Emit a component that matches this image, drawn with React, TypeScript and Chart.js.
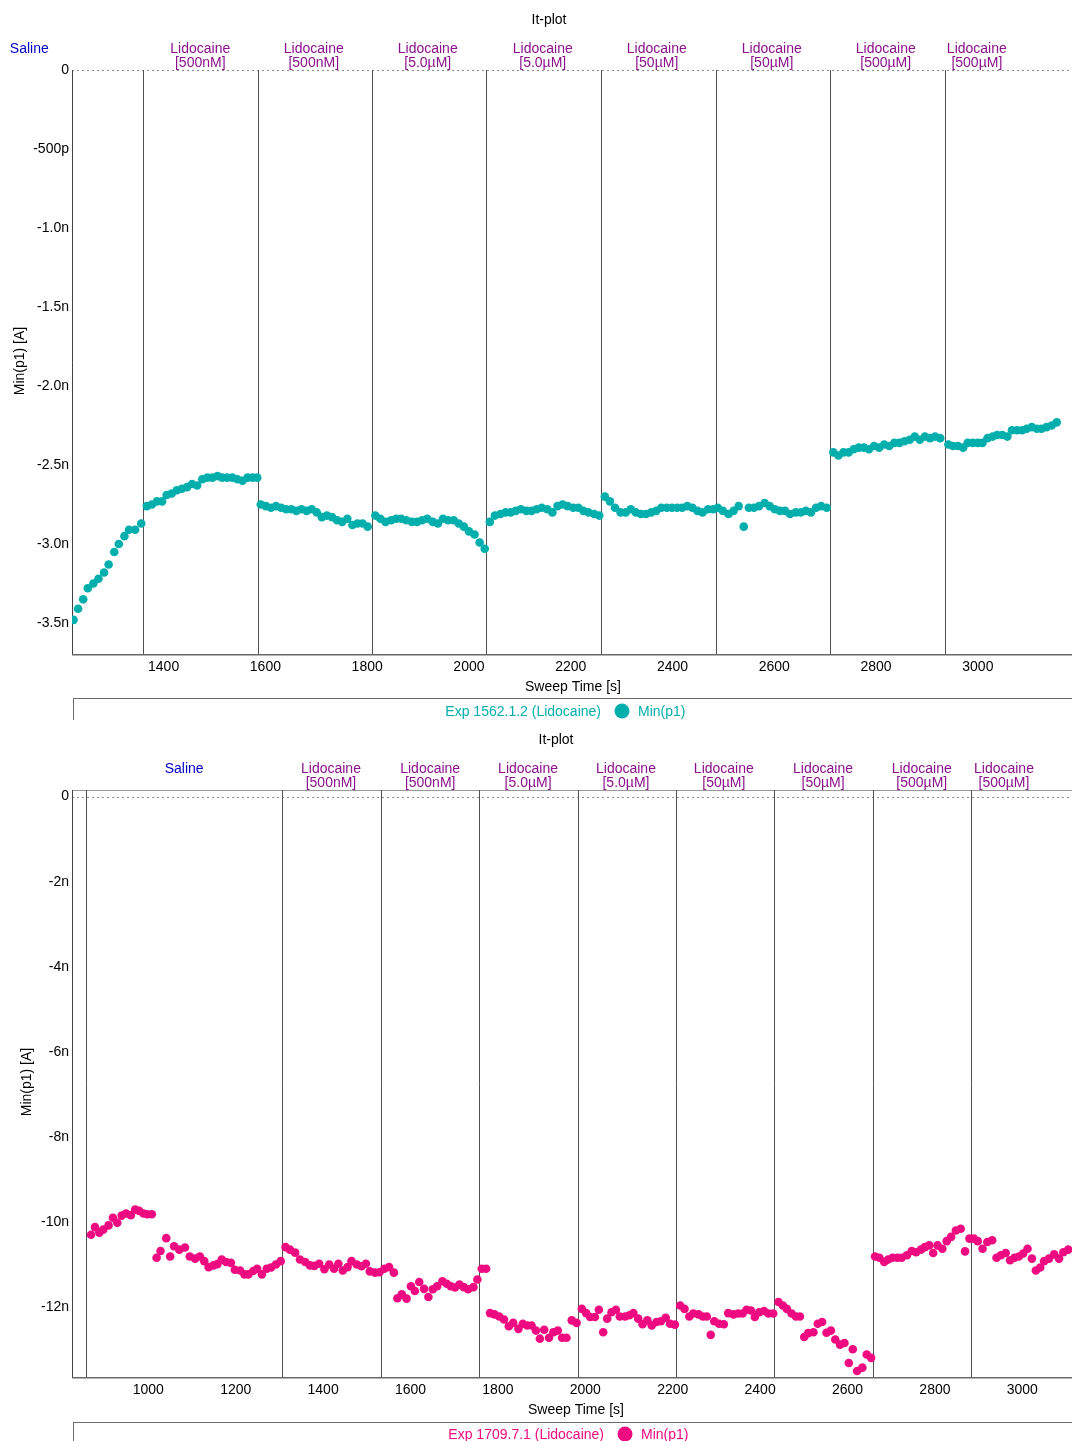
import React, { useEffect, useRef } from "react";
import { Chart, registerables } from "chart.js";

Chart.register(...registerables);

const FONT_FAMILY = '"Liberation Sans", Arial, Helvetica, sans-serif';
const FONT_SIZE = 14;

// ---------------- Panel 1: Exp 1562.1.2 (Lidocaine) ----------------
const topTimes = [
  1223, 1232, 1242, 1251, 1262, 1272, 1283, 1292, 1303, 1312, 1323, 1332, 1344, 1356,
  1367, 1377, 1387, 1397, 1406, 1416, 1426, 1436, 1446, 1456, 1466, 1476, 1486, 1496, 1506, 1515, 1525, 1535, 1545, 1555, 1565, 1575, 1584,
  1591, 1601, 1611, 1621, 1631, 1641, 1651, 1661, 1671, 1681, 1691, 1701, 1711, 1721, 1731, 1741, 1751, 1761, 1771, 1781, 1791, 1801,
  1816, 1826, 1836, 1847, 1857, 1867, 1877, 1888, 1898, 1908, 1918, 1929, 1939, 1949, 1959, 1970, 1980, 1990, 2000, 2011, 2021, 2031,
  2041, 2051, 2062, 2072, 2082, 2092, 2102, 2113, 2123, 2133, 2143, 2154, 2164, 2174, 2184, 2194, 2205, 2215, 2225, 2235, 2246, 2256,
  2267, 2277, 2287, 2298, 2308, 2318, 2328, 2338, 2348, 2358, 2368, 2378, 2389, 2399, 2409, 2419, 2429, 2439, 2449, 2459, 2470, 2480,
  2489, 2499, 2510, 2520, 2530, 2540, 2550, 2560, 2570, 2581, 2591, 2601, 2611, 2621, 2631, 2642, 2652, 2662, 2672, 2682, 2692, 2703,
  2716, 2726, 2736, 2746, 2756, 2766, 2776, 2786, 2796, 2806, 2816, 2826, 2836, 2846, 2856, 2866, 2876, 2886, 2896, 2906, 2916, 2926,
  2942, 2951, 2961, 2971, 2980, 2990, 3000, 3009, 3019, 3029, 3038, 3048, 3058, 3067, 3077, 3087, 3096, 3106, 3116, 3125, 3135, 3145, 3155,
];
// values in nA
const topValues = [
  -3.48, -3.41, -3.35, -3.28, -3.25, -3.22, -3.18, -3.13, -3.05, -3.0, -2.95, -2.91, -2.91, -2.87,
  -2.76, -2.75, -2.73, -2.73, -2.69, -2.68, -2.66, -2.65, -2.64, -2.62, -2.63, -2.59, -2.58, -2.58, -2.57, -2.58, -2.58, -2.58, -2.59, -2.6, -2.58, -2.58, -2.58,
  -2.75, -2.76, -2.77, -2.76, -2.77, -2.78, -2.78, -2.79, -2.78, -2.79, -2.78, -2.8, -2.83, -2.82, -2.83, -2.85, -2.86, -2.84, -2.88, -2.87, -2.87, -2.89,
  -2.82, -2.84, -2.86, -2.85, -2.84, -2.84, -2.85, -2.86, -2.86, -2.85, -2.84, -2.86, -2.87, -2.84, -2.85, -2.85, -2.87, -2.89, -2.92, -2.94, -2.99, -3.03,
  -2.86, -2.82, -2.81, -2.8, -2.8, -2.79, -2.78, -2.79, -2.79, -2.78, -2.77, -2.78, -2.8, -2.76, -2.75, -2.76, -2.77, -2.77, -2.79, -2.8, -2.81, -2.82,
  -2.7, -2.73, -2.77, -2.8, -2.8, -2.78, -2.8, -2.81, -2.81, -2.8, -2.79, -2.77, -2.77, -2.77, -2.77, -2.77, -2.76, -2.77, -2.79, -2.8, -2.78, -2.78,
  -2.77, -2.79, -2.81, -2.79, -2.76, -2.89, -2.77, -2.77, -2.76, -2.74, -2.76, -2.78, -2.79, -2.79, -2.81, -2.8, -2.8, -2.79, -2.8, -2.77, -2.76, -2.77,
  -2.42, -2.44, -2.42, -2.42, -2.4, -2.39, -2.39, -2.4, -2.38, -2.39, -2.37, -2.38, -2.36, -2.36, -2.35, -2.34, -2.32, -2.34, -2.32, -2.33, -2.32, -2.33,
  -2.37, -2.38, -2.38, -2.39, -2.36, -2.36, -2.36, -2.36, -2.33, -2.32, -2.31, -2.31, -2.32, -2.28, -2.28, -2.28, -2.27, -2.26, -2.27, -2.27, -2.26, -2.25, -2.23,
];
const topBoundaries = [1359, 1585, 1810, 2034, 2260, 2485, 2709, 2935];
const topLabelTimes = [1136, 1472, 1695, 1919, 2145, 2369, 2595, 2819, 2998];
const topXTicks = [1400, 1600, 1800, 2000, 2200, 2400, 2600, 2800, 3000];
const topYTicks = [0, -0.5, -1.0, -1.5, -2.0, -2.5, -3.0, -3.5];
const topYTickLabels = ["0", "-500p", "-1.0n", "-1.5n", "-2.0n", "-2.5n", "-3.0n", "-3.5n"];

// ---------------- Panel 2: Exp 1709.7.1 (Lidocaine) ----------------
const bottomTimes = [
  869, 878, 888, 897, 909, 919, 929, 939, 949, 960, 970, 979, 989, 998, 1008,
  1019, 1028, 1041, 1050, 1059, 1071, 1084, 1095, 1107, 1118, 1128, 1138, 1149, 1158, 1168, 1178, 1189, 1198, 1210, 1220, 1229, 1240, 1249, 1260, 1271, 1281, 1292, 1303,
  1314, 1324, 1336, 1347, 1359, 1370, 1380, 1391, 1403, 1414, 1425, 1435, 1445, 1456, 1465, 1477, 1488, 1498, 1507, 1519, 1529,
  1540, 1551, 1562, 1570, 1580, 1591, 1601, 1610, 1620, 1631, 1641, 1651, 1661, 1673, 1683, 1692, 1702, 1712, 1722, 1732, 1744, 1753,
  1763, 1773, 1782, 1792, 1803, 1814, 1825, 1835, 1847, 1857, 1867, 1877, 1887, 1896, 1906, 1917, 1927, 1937, 1947, 1957, 1969, 1980,
  1992, 2002, 2011, 2022, 2031, 2041, 2050, 2060, 2070, 2079, 2091, 2101, 2110, 2121, 2131, 2142, 2152, 2163, 2173, 2184, 2194, 2205,
  2217, 2227, 2238, 2247, 2259, 2269, 2278, 2287, 2295, 2306, 2317, 2327, 2339, 2350, 2360, 2369, 2379, 2388, 2398, 2409, 2419, 2430,
  2442, 2452, 2461, 2472, 2482, 2491, 2501, 2510, 2522, 2532, 2542, 2552, 2562, 2572, 2583, 2593, 2603, 2612, 2622, 2634, 2644, 2654,
  2663, 2673, 2684, 2693, 2703, 2714, 2724, 2736, 2747, 2757, 2768, 2777, 2787, 2796, 2806, 2817, 2827, 2837, 2848, 2859, 2869,
  2879, 2889, 2898, 2909, 2920, 2931, 2941, 2951, 2962, 2972, 2982, 2992, 3002, 3012, 3022, 3031, 3041, 3050, 3061, 3073, 3084, 3094, 3105,
];
// values in nA
const bottomValues = [
  -10.29, -10.11, -10.24, -10.17, -10.07, -9.89, -10.01, -9.84, -9.79, -9.83, -9.7, -9.73, -9.79, -9.81, -9.81,
  -10.83, -10.67, -10.37, -10.8, -10.56, -10.64, -10.59, -10.8, -10.85, -10.8, -10.91, -11.05, -11.01, -10.98, -10.87, -10.93, -10.95, -11.11, -11.13, -11.22, -11.22, -11.14, -11.09, -11.22, -11.09, -11.06, -10.99, -10.91,
  -10.58, -10.64, -10.71, -10.87, -10.93, -11.01, -11.02, -10.97, -11.1, -10.99, -11.09, -10.97, -11.13, -11.05, -10.91, -10.99, -11.03, -10.97, -11.15, -11.18, -11.17,
  -11.09, -11.05, -11.18, -11.78, -11.69, -11.79, -11.5, -11.61, -11.4, -11.56, -11.75, -11.57, -11.5, -11.38, -11.44, -11.5, -11.53, -11.46, -11.52, -11.57, -11.52, -11.34,
  -11.09, -11.09, -12.13, -12.16, -12.21, -12.28, -12.44, -12.36, -12.5, -12.38, -12.42, -12.42, -12.54, -12.73, -12.52, -12.71, -12.58, -12.54, -12.71, -12.71, -12.3, -12.36,
  -12.03, -12.13, -12.22, -12.22, -12.05, -12.58, -12.26, -12.11, -12.05, -12.21, -12.21, -12.18, -12.13, -12.26, -12.39, -12.3, -12.42, -12.34, -12.32, -12.24, -12.38, -12.4,
  -11.95, -12.03, -12.21, -12.14, -12.16, -12.21, -12.21, -12.64, -12.32, -12.38, -12.39, -12.13, -12.16, -12.14, -12.14, -12.05, -12.07, -12.22, -12.11, -12.08, -12.14, -12.14,
  -11.87, -11.95, -12.03, -12.14, -12.21, -12.21, -12.69, -12.6, -12.58, -12.38, -12.34, -12.59, -12.54, -12.75, -12.87, -12.83, -13.3, -12.98, -13.49, -13.41, -13.1, -13.18,
  -10.8, -10.83, -10.93, -10.87, -10.83, -10.83, -10.83, -10.77, -10.67, -10.7, -10.64, -10.58, -10.54, -10.72, -10.54, -10.62, -10.44, -10.34, -10.19, -10.15, -10.68,
  -10.38, -10.38, -10.44, -10.62, -10.46, -10.42, -10.83, -10.77, -10.72, -10.89, -10.83, -10.8, -10.73, -10.62, -10.85, -11.13, -11.06, -10.91, -10.85, -10.75, -10.85, -10.7, -10.64,
];
const bottomBoundaries = [857, 1306, 1532, 1757, 1983, 2208, 2432, 2658, 2883];
const bottomLabelTimes = [1082, 1418, 1645, 1869, 2093, 2317, 2544, 2770, 2958];
const bottomXTicks = [1000, 1200, 1400, 1600, 1800, 2000, 2200, 2400, 2600, 2800, 3000];
const bottomYTicks = [0, -2, -4, -6, -8, -10, -12];
const bottomYTickLabels = ["0", "-2n", "-4n", "-6n", "-8n", "-10n", "-12n"];

// ---------------- Shared labels ----------------
const solutionNames = ["Saline", "Lidocaine", "Lidocaine", "Lidocaine", "Lidocaine", "Lidocaine", "Lidocaine", "Lidocaine", "Lidocaine"];
const solutionConcs = ["", "[500nM]", "[500nM]", "[5.0µM]", "[5.0µM]", "[50µM]", "[50µM]", "[500µM]", "[500µM]"];

const TEAL = "#00AFAC";
const PINK = "#EE0A80";
const PURPLE = "#8B108B";
const BLUE = "#0000C8";

type PanelCfg = {
  times: number[];
  values: number[];
  color: string;
  legendName: string;
  height: number;
  padBottom: number;
  xMin: number;
  xMax: number;
  xTicks: number[];
  yMin: number;
  yMax: number;
  yTicks: number[];
  yTickLabels: string[];
  boundaries: number[];
  labelTimes: number[];
  titleX: number;
  xTitleX: number;
  xTitleY: number;
  yTitleX: number;
  yTitleY: number;
  legendTop: number;
  legendY: number;
  legendMarkerX: number;
  topBorder: boolean;
};

const panels: PanelCfg[] = [
  {
    times: topTimes,
    values: topValues,
    color: TEAL,
    legendName: "Exp 1562.1.2 (Lidocaine)",
    height: 720,
    padBottom: 42,
    xMin: 1220,
    xMax: 3185,
    xTicks: topXTicks,
    yMin: -3.696,
    yMax: 0,
    yTicks: topYTicks,
    yTickLabels: topYTickLabels,
    boundaries: topBoundaries,
    labelTimes: topLabelTimes,
    titleX: 549,
    xTitleX: 573,
    xTitleY: 687,
    yTitleX: 20,
    yTitleY: 361,
    legendTop: 698,
    legendY: 712,
    legendMarkerX: 622,
    topBorder: false,
  },
  {
    times: bottomTimes,
    values: bottomValues,
    color: PINK,
    legendName: "Exp 1709.7.1 (Lidocaine)",
    height: 721,
    padBottom: 40,
    xMin: 825.4,
    xMax: 3113.7,
    xTicks: bottomXTicks,
    yMin: -13.63,
    yMax: 0.153,
    yTicks: bottomYTicks,
    yTickLabels: bottomYTickLabels,
    boundaries: bottomBoundaries,
    labelTimes: bottomLabelTimes,
    titleX: 556,
    xTitleX: 576,
    xTitleY: 690,
    yTitleX: 27,
    yTitleY: 362,
    legendTop: 702,
    legendY: 715,
    legendMarkerX: 625,
    topBorder: true,
  },
];

function makeOverlay(cfg: PanelCfg) {
  return {
    id: "itplotOverlay",
    beforeDatasetsDraw(chart: any) {
      const { ctx, chartArea: a, scales } = chart;
      const xs = scales.x;
      const ys = scales.y;
      ctx.save();
      ctx.lineWidth = 1;
      // top border
      if (cfg.topBorder) {
        ctx.strokeStyle = "#9a9a9a";
        ctx.beginPath();
        ctx.moveTo(a.left, a.top + 0.5);
        ctx.lineTo(a.right, a.top + 0.5);
        ctx.stroke();
      }
      // dashed zero line
      const y0 = Math.round(ys.getPixelForValue(0)) + 0.5;
      ctx.strokeStyle = "#8c8c8c";
      ctx.setLineDash([2, 3]);
      ctx.beginPath();
      ctx.moveTo(a.left, y0);
      ctx.lineTo(a.right, y0);
      ctx.stroke();
      ctx.setLineDash([]);
      // solution boundaries
      ctx.strokeStyle = "#505050";
      for (const t of cfg.boundaries) {
        const px = Math.round(xs.getPixelForValue(t)) + 0.5;
        ctx.beginPath();
        ctx.moveTo(px, a.top);
        ctx.lineTo(px, a.bottom);
        ctx.stroke();
      }
      // axes
      ctx.strokeStyle = "#404040";
      ctx.beginPath();
      ctx.moveTo(a.left + 0.5, a.top);
      ctx.lineTo(a.left + 0.5, a.bottom + 1);
      ctx.stroke();
      ctx.strokeStyle = "#6a6a6a";
      ctx.lineWidth = 1.5;
      ctx.beginPath();
      ctx.moveTo(a.left, a.bottom + 0.75);
      ctx.lineTo(a.right, a.bottom + 0.75);
      ctx.stroke();
      ctx.restore();
    },
    afterDraw(chart: any) {
      const { ctx, chartArea: a, scales } = chart;
      const xs = scales.x;
      ctx.save();
      ctx.textAlign = "center";
      ctx.textBaseline = "middle";
      // title
      ctx.fillStyle = "#000";
      ctx.font = `${FONT_SIZE}px ${FONT_FAMILY}`;
      ctx.fillText("It-plot", cfg.titleX, 20);
      // solution labels
      cfg.labelTimes.forEach((t, i) => {
        const px = xs.getPixelForValue(t);
        const isSaline = solutionNames[i] === "Saline";
        ctx.fillStyle = isSaline ? BLUE : PURPLE;
        ctx.fillText(solutionNames[i], px, 49);
        if (solutionConcs[i]) ctx.fillText(solutionConcs[i], px, 63);
      });
      // axis titles
      ctx.fillStyle = "#000";
      ctx.fillText("Sweep Time [s]", cfg.xTitleX, cfg.xTitleY);
      ctx.save();
      ctx.translate(cfg.yTitleX, cfg.yTitleY);
      ctx.rotate(-Math.PI / 2);
      ctx.fillText("Min(p1) [A]", 0, 0);
      ctx.restore();
      // legend box
      ctx.strokeStyle = "#6a6a6a";
      ctx.lineWidth = 1;
      ctx.strokeRect(a.left + 1.5, cfg.legendTop + 0.5, 1200, 60);
      ctx.fillStyle = cfg.color;
      ctx.textAlign = "right";
      ctx.fillText(cfg.legendName, cfg.legendMarkerX - 21, cfg.legendY);
      ctx.beginPath();
      ctx.arc(cfg.legendMarkerX, cfg.legendY - 1, 7.5, 0, Math.PI * 2);
      ctx.fill();
      ctx.textAlign = "left";
      ctx.fillText("Min(p1)", cfg.legendMarkerX + 16, cfg.legendY);
      ctx.restore();
    },
  };
}

function Panel({ cfg }: { cfg: PanelCfg }) {
  const ref = useRef<HTMLCanvasElement | null>(null);
  useEffect(() => {
    if (!ref.current) return;
    const points = cfg.times.map((t, i) => ({ x: t, y: cfg.values[i] }));
    const chart = new Chart(ref.current, {
      type: "scatter",
      data: {
        datasets: [
          {
            label: "Min(p1)",
            data: points,
            backgroundColor: cfg.color,
            borderColor: cfg.color,
            borderWidth: 0,
            pointRadius: 4.3,
            pointHoverRadius: 4.3,
          },
        ],
      },
      options: {
        responsive: false,
        animation: false,
        devicePixelRatio: 1,
        events: [],
        layout: { autoPadding: false, padding: { top: 70, left: 0, right: 0, bottom: cfg.padBottom } },
        plugins: { legend: { display: false }, title: { display: false }, tooltip: { enabled: false } },
        scales: {
          x: {
            type: "linear",
            min: cfg.xMin,
            max: cfg.xMax,
            grid: { display: false, drawTicks: false },
            border: { display: false },
            afterBuildTicks: (axis: any) => {
              axis.ticks = cfg.xTicks.map((v) => ({ value: v }));
            },
            afterFit: (axis: any) => {
              axis.height = 24;
            },
            ticks: {
              color: "#000",
              padding: 5,
              maxRotation: 0,
              autoSkip: false,
              font: { family: FONT_FAMILY, size: FONT_SIZE },
              callback: (v: any) => String(v),
            },
          },
          y: {
            type: "linear",
            min: cfg.yMin,
            max: cfg.yMax,
            grid: { display: false, drawTicks: false },
            border: { display: false },
            afterBuildTicks: (axis: any) => {
              axis.ticks = cfg.yTicks.map((v) => ({ value: v }));
            },
            afterFit: (axis: any) => {
              axis.width = 72;
            },
            ticks: {
              color: "#000",
              padding: 3,
              autoSkip: false,
              font: { family: FONT_FAMILY, size: FONT_SIZE },
              callback: (_v: any, i: number) => cfg.yTickLabels[i],
            },
          },
        },
      },
      plugins: [makeOverlay(cfg)],
    } as any);
    return () => chart.destroy();
  }, [cfg]);
  return (
    <canvas
      ref={ref}
      width={1072}
      height={cfg.height}
      style={{ display: "block", width: 1072, height: cfg.height }}
    />
  );
}

export default function App() {
  return (
    <div style={{ position: "absolute", left: 0, top: 0, width: 1072, height: 1441, background: "#fff", overflow: "hidden" }}>
      {panels.map((p, i) => (
        <Panel key={i} cfg={p} />
      ))}
    </div>
  );
}
